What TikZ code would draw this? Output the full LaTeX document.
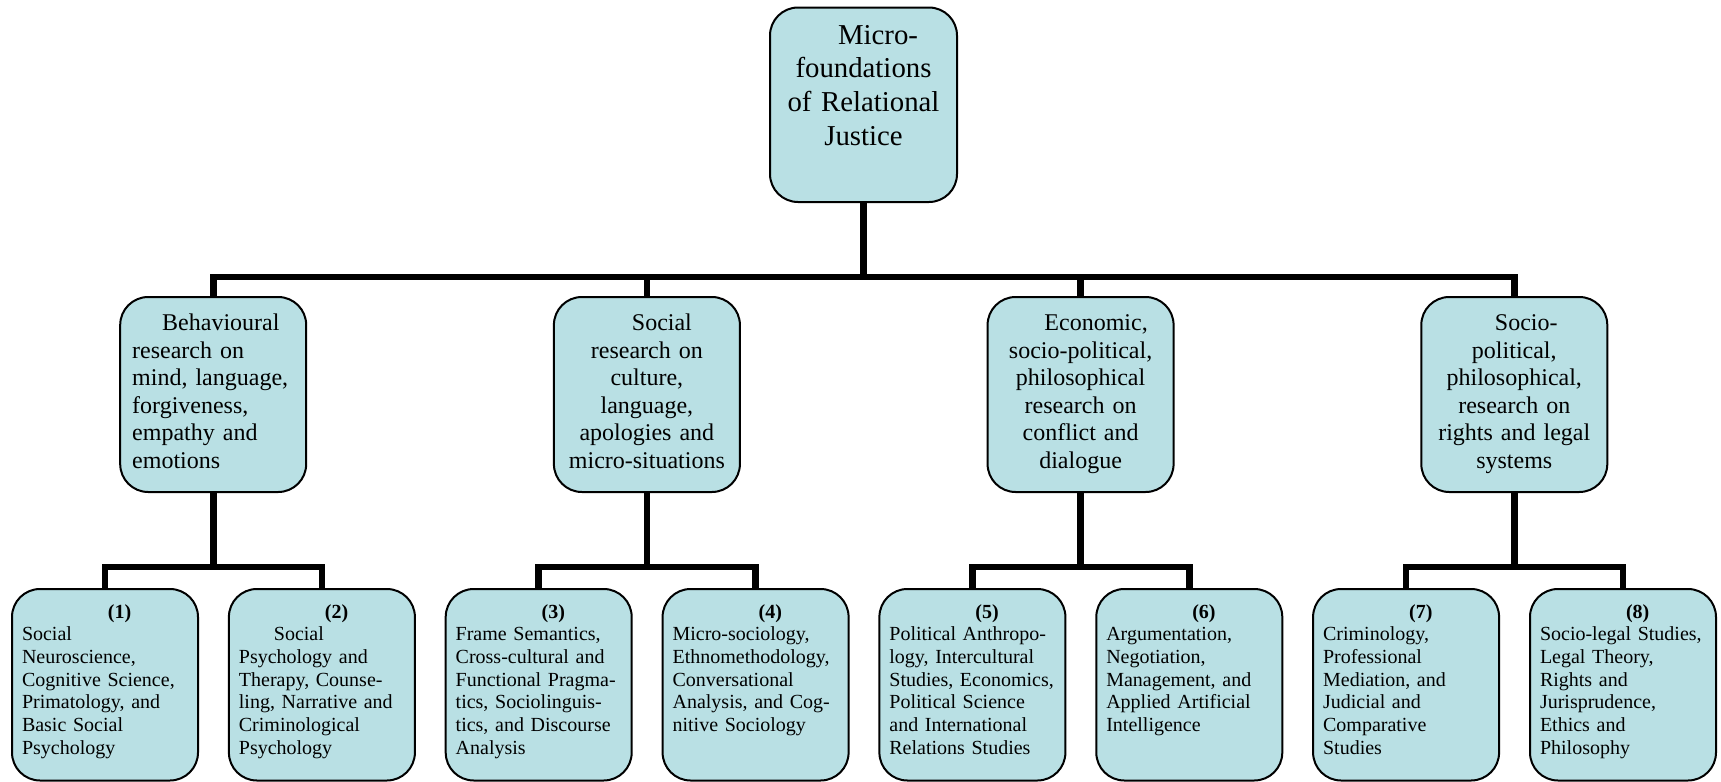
\documentclass[tikz,border=0pt]{standalone}
\usepackage{fontspec}
\setmainfont{Liberation Serif}
\definecolor{boxfill}{RGB}{185,224,228}
\tikzset{
  box/.style={draw=black, line width=1pt, fill=boxfill, rounded corners=14pt, inner ysep=0pt},
  topbox/.style={box, inner xsep=6.25pt, text width=81pt, align=center,
    font=\fontsize{14.4}{16.85}\selectfont, text height=18.25pt, text depth=79pt},
  midbox/.style={box, inner xsep=6pt, text width=81pt,
    font=\fontsize{12}{13.75}\selectfont, text height=16.85pt, text depth=80.65pt},
  leafbox/.style={box, inner xsep=5pt, text width=83pt, align=left,
    font=\fontsize{10}{11.35}\selectfont, text height=14.5pt, text depth=81.25pt},
  conn/.style={line width=3.3pt, draw=black}
}
\newcommand{\numlabel}[1]{\hspace*{43pt}\textbf{(#1)}}
\begin{document}
\begin{tikzpicture}[x=0.5pt,y=-0.5pt]
\useasboundingbox (0,0) rectangle (1721,782);
% top
\node[topbox] (top) at (863.5,104.75) {\hspace*{14.5pt}Micro-\\foundations\\of Relational\\Justice};
% middle
\node[midbox, align=left] (m1) at (213.2,394.5) {\hspace*{15pt}Behavioural\\research on\\mind, language,\\forgiveness,\\empathy and\\emotions};
\node[midbox, align=center] (m2) at (646.9,394.5) {\hspace*{15pt}Social\\research on\\culture,\\language,\\apologies and\\micro-situations};
\node[midbox, align=center] (m3) at (1080.6,394.5) {\hspace*{15.5pt}Economic,\\socio-political,\\philosophical\\research on\\conflict and\\dialogue};
\node[midbox, align=center] (m4) at (1514.3,394.5) {\hspace*{12pt}Socio-\\political,\\philosophical,\\research on\\rights and legal\\systems};
% leaves
\node[leafbox] (l1) at (105,684.75) {\numlabel{1}\\Social\\Neuroscience,\\Cognitive Science,\\Primatology, and\\Basic Social\\Psychology};
\node[leafbox] (l2) at (321.9,684.75) {\numlabel{2}\\\hspace*{17.5pt}Social\\Psychology and\\Therapy, Counse-\\ling, Narrative and\\Criminological\\Psychology};
\node[leafbox] (l3) at (538.7,684.75) {\numlabel{3}\\Frame Semantics,\\Cross-cultural and\\Functional Pragma-\\tics, Sociolinguis-\\tics, and Discourse\\Analysis};
\node[leafbox] (l4) at (755.6,684.75) {\numlabel{4}\\Micro-sociology,\\Ethnomethodology,\\Conversational\\\makebox[81pt][s]{Analysis, and Cog-}\\nitive Sociology};
\node[leafbox] (l5) at (972.4,684.75) {\numlabel{5}\\Political Anthropo-\\logy, Intercultural\\Studies, Economics,\\Political Science\\and International\\Relations Studies};
\node[leafbox] (l6) at (1189.3,684.75) {\numlabel{6}\\Argumentation,\\Negotiation,\\Management, and\\Applied Artificial\\Intelligence};
\node[leafbox] (l7) at (1406.1,684.75) {\numlabel{7}\\Criminology,\\Professional\\Mediation, and\\Judicial and\\Comparative\\Studies};
\node[leafbox] (l8) at (1623,684.75) {\numlabel{8}\\Socio-legal Studies,\\Legal Theory,\\Rights and\\Jurisprudence,\\Ethics and\\Philosophy};
% connectors top level
\coordinate (tb) at (863.5,277);
\draw[conn] (top.south) -- (tb);
\draw[conn] (m1.north) |- (tb) -| (m4.north);
\draw[conn] (m2.north) -- (m2.north |- tb);
\draw[conn] (m3.north) -- (m3.north |- tb);
% connectors lower level
\coordinate (b1) at (213.2,567);
\coordinate (b2) at (646.9,567);
\coordinate (b3) at (1080.6,567);
\coordinate (b4) at (1514.3,567);
\draw[conn] (m1.south) -- (b1);
\draw[conn] (l1.north) |- (b1) -| (l2.north);
\draw[conn] (m2.south) -- (b2);
\draw[conn] (l3.north) |- (b2) -| (l4.north);
\draw[conn] (m3.south) -- (b3);
\draw[conn] (l5.north) |- (b3) -| (l6.north);
\draw[conn] (m4.south) -- (b4);
\draw[conn] (l7.north) |- (b4) -| (l8.north);
\end{tikzpicture}
\end{document}
